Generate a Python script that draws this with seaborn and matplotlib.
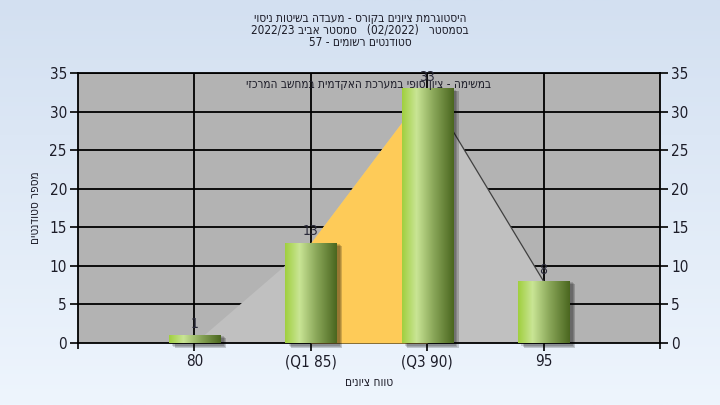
import numpy as np
import pandas as pd
import matplotlib
matplotlib.use("Agg")
import matplotlib.pyplot as plt
import seaborn as sns
from matplotlib.colors import LinearSegmentedColormap
from matplotlib.patches import Rectangle

# data (Hebrew strings are stored in visual left-to-right order)
categories = ["80", "(Q1 85)", "(Q3 90)", "95"]
counts = [1, 13, 33, 8]
area_values = [0, 13, 33, 8]
y_ticks = [0, 5, 10, 15, 20, 25, 30, 35]

title_lines = [
    "יוסינ תוטישב הדבעמ - סרוקב םינויצ תמרגוטסיה",
    "2022/23 ביבא רטסמס   (02/2022)   רטסמסב",
    "57 - םימושר םיטנדוטס",
]
note_text = "יזכרמה בשחמב תימדקאה תכרעמב יפוס ןויצ - המישמב"
y_label = "םיטנדוטס רפסמ"
x_label = "םינויצ חווט"

sns.set_style("white")
plt.rcParams["font.family"] = ["DejaVu Sans", "Liberation Sans"]
plt.rcParams["font.stretch"] = "condensed"

df = pd.DataFrame({"range": categories, "count": counts})
pos = np.arange(len(categories))
text_col = "#1c1c28"

fig = plt.figure(figsize=(7.2, 4.05), dpi=100)

# figure background gradient
bg = fig.add_axes([0, 0, 1, 1], zorder=-10)
grad = np.linspace(0, 1, 256).reshape(-1, 1)
bg.imshow(grad, aspect="auto", extent=[0, 1, 0, 1],
          cmap=LinearSegmentedColormap.from_list("bg", ["#d3e0f1", "#eef5fd"]))
bg.axis("off")

ax = fig.add_axes([78 / 720, 62 / 405, 582 / 720, 270 / 405])
ax.set_facecolor("#b3b3b3")

sns.barplot(data=df, x="range", y="count", width=0.44, color="#9acd32",
            ax=ax, zorder=5, linewidth=0)

# grid
for yv in y_ticks[1:]:
    ax.axhline(yv, color="black", lw=1.3, zorder=1)
for xv in pos:
    ax.axvline(xv, color="black", lw=1.3, zorder=1)

# areas under the curve
ax.fill_between(pos, area_values, color="#c0c0c0", lw=0, zorder=2)
ax.fill_between(pos[1:3], area_values[1:3], color="#fecb58", lw=0, zorder=3)
ax.plot(pos[2:4], area_values[2:4], color="#404040", lw=0.9, zorder=4)

# gradient + shadow on bars
bar_cmap = LinearSegmentedColormap.from_list(
    "bar", [(0, "#a0cf3e"), (0.28, "#c9e595"), (0.6, "#8ba85a"), (1, "#4a661f")])
hgrad = np.linspace(0, 1, 256).reshape(1, -1)
for p in ax.patches:
    x0, w, h = p.get_x(), p.get_width(), p.get_height()
    for k, a in enumerate([0.15, 0.15, 0.18]):
        sh = Rectangle((x0 + 0.03 + k * 0.01, -0.35 - k * 0.12), w, h + 0.2,
                       color="black", alpha=a, lw=0, zorder=4.5, clip_on=False)
        ax.add_patch(sh)
    im = ax.imshow(hgrad, aspect="auto", cmap=bar_cmap,
                   extent=[x0, x0 + w, 0, h], zorder=6)
    im.set_clip_path(p)
    ax.text(x0 + w / 2, h + 0.6, str(int(h)), ha="center", va="bottom",
            fontsize=10, color="#2a2a3a", zorder=8)

ax.set_xlim(-1, 4)
ax.set_ylim(0, 35)

ax.text(1.5, 33.5, note_text, ha="center", va="center", fontsize=8.5,
        color=text_col, zorder=9)

# axes / ticks
for s in ax.spines.values():
    s.set_color("black")
    s.set_linewidth(1.3)
    s.set_visible(True)
ax.set_yticks(y_ticks)
ax.set_xticks(pos)
ax.set_xticklabels(categories)
ax.set_xticks([-1, 4], minor=True)
ax.tick_params(axis="both", which="major", direction="out", length=6,
               width=1.2, color="black", labelsize=11, labelcolor=text_col,
               left=True, bottom=True, right=True, labelright=True, pad=2)
ax.tick_params(axis="x", which="minor", direction="out", length=4,
               width=1.2, color="black", bottom=True)
ax.set_xlabel(x_label, fontsize=8.5, color=text_col, labelpad=5)
ax.set_ylabel(y_label, fontsize=8.5, color=text_col, labelpad=5)

for i, line in enumerate(title_lines):
    fig.text(0.5, 1 - (18 + 12 * i) / 405, line, ha="center", va="center",
             fontsize=8.5, color=text_col)

fig.savefig("out.png", dpi=100)
